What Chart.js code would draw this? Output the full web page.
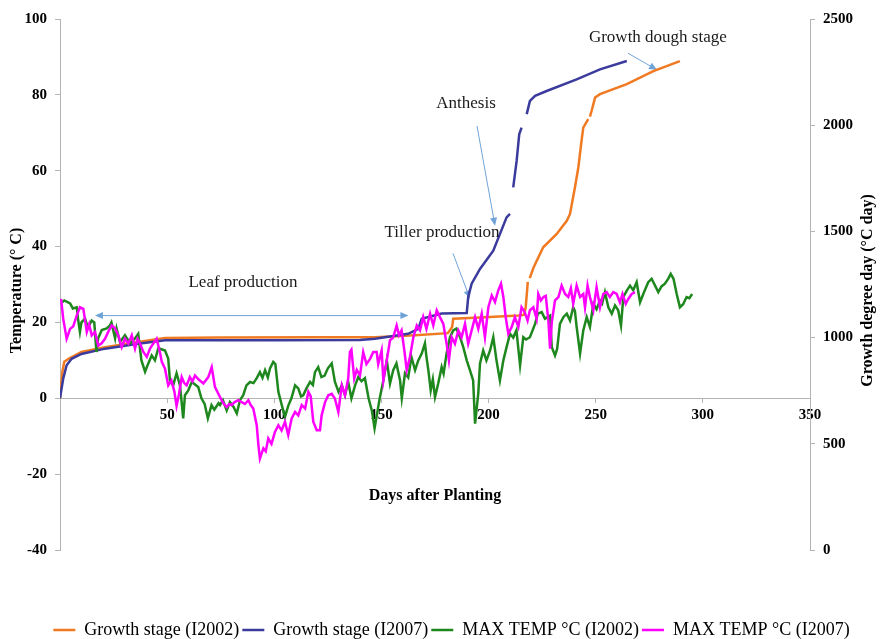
<!DOCTYPE html>
<html>
<head>
<meta charset="utf-8">
<script src="https://cdn.jsdelivr.net/npm/chart.js@4.4.0/dist/chart.umd.min.js"></script>
<style>
  html, body { margin: 0; padding: 0; background: #ffffff; }
  canvas { display: block; }
</style>
</head>
<body>
<canvas id="chart" width="880" height="639"></canvas>
<script>
// Tick values for the three axes
const dayTicks = [50, 100, 150, 200, 250, 300, 350];
const tempTicks = [-40, -20, 0, 20, 40, 60, 80, 100];
const gddTicks = [0, 500, 1000, 1500, 2000, 2500];

const seriesLabels = ['Growth stage (I2002)', 'Growth stage (I2007)', 'MAX TEMP °C (I2002)', 'MAX TEMP °C (I2007)'];

// Accumulated growth degree days (°C day) by days after planting; null = missing record
const gsDays2002 = [0, 1.1, 2, 4, 10, 21, 36.5, 49, 74, 120, 147, 165.7, 181, 183, 183.5, 193.7, 213.9, 216.5, 217.3, 217.8, 218.3, 218.6, 219.2, 221, 225.5, 231.8, 236.5, 238, 240.3, 241.9, 243.4, 244.2, 246.5, 246.9, 247.3, 248.1, 249.7, 252, 264.5, 276.9, 289.3];
const gdd2002 = [714, 838, 886, 900, 932, 955, 979, 998, 1000, 1002, 1002, 1011, 1021, 1050, 1089, 1093, 1104, 1107, 1140, 1200, 1262, null, 1280, 1330, 1425, 1488, 1550, 1582, 1707, 1802, 1927, 1989, 2029, null, 2040, 2068, 2130, 2146, 2193, 2255, 2302];

const gsDays2007 = [0, 1.5, 3.1, 5.4, 10, 21, 36.5, 49, 100, 140, 147, 162.5, 167.2, 168.8, 178.1, 189.8, 190.5, 192.1, 196, 202.2, 208.4, 210, 210.8, 211.5, 213.1, 214.3, 215.4, 216.6, 217.8, 219.3, 221.7, 227.1, 241.1, 252, 264.5];
const gdd2007 = [714, 807, 870, 900, 923, 948, 971, 988, 988, 989, 995, 1018, 1041, 1089, 1113, 1116, 1191, 1254, 1323, 1409, 1566, 1582, null, 1707, 1832, 1957, 1989, null, 2052, 2114, 2138, 2161, 2216, 2263, 2302];

// Daily maximum temperature, season 2002
const tempDays2002 = [1, 2, 4.7, 6, 7.8, 8.4, 9.3, 10, 11.7, 13, 14.8, 16, 17, 17.8, 19.5, 21.8, 23.3, 24, 25.7, 26.4, 28, 30.3, 32.7, 35, 36.5, 38, 39.7, 41.2, 42.8, 44.3, 45.9, 49, 50.5, 51.3, 52.8, 54.4, 56, 57.5, 58.3, 59.8, 61.5, 64.5, 66, 67.5, 69, 70.7, 72, 74, 74.7, 76, 77.8, 79.3, 81, 82.5, 84, 85.5, 87, 88.7, 90.3, 91.8, 93.3, 94.5, 95.7, 97, 98, 99.5, 100.5, 101.9, 103.5, 105, 106.5, 108, 109.7, 111.2, 112.5, 113.5, 115, 116.7, 118, 119, 120.5, 122, 123.5, 125, 126.8, 128.3, 130, 131.5, 133, 134.5, 136, 137.7, 139.2, 140.7, 142.3, 144, 145.5, 146.8, 149.3, 150.9, 152.5, 154, 155.5, 157, 158.7, 159.5, 161, 162.5, 164, 165.7, 167.2, 168.8, 170.3, 171, 171.9, 173, 174, 175, 176.5, 178.1, 179, 180.4, 182, 183.5, 185, 186.7, 188.2, 189.8, 191.3, 192.8, 193.7, 195.2, 196, 197.5, 199, 200.7, 202.2, 203.7, 205.3, 206.9, 208.4, 210, 211.5, 213, 214.7, 216.2, 217.5, 219.3, 221.7, 223, 224.8, 226.3, 228.7, 229.5, 231, 232, 233.3, 234.9, 236.5, 238, 239.5, 240.3, 241.1, 242.7, 244.2, 245.8, 247.3, 248.9, 250.4, 252, 253, 254.3, 255.9, 257.5, 259, 260.5, 261.8, 262.9, 264.5, 266, 267.5, 269.1, 270.7, 272.2, 274.5, 276.1, 277.7, 279.2, 280.7, 282.3, 283.8, 285, 286.3, 287.8, 289.3, 290.8, 292.4, 293.7, 295];
const maxTemp2002 = [25.3, 25.8, 25, 23.7, 24, 21, 17.5, 20, 21, 18.7, 20.5, 20, 12.2, 15.8, 18, 18.4, 19.2, 20, 15.8, 18.4, 14.8, 16.6, 14.5, 15.8, 17, 10, 7, 9.2, 11.3, 10, 13.2, 12.6, 10.5, 4.7, 3.4, 6.6, 3.4, -5.3, 0.8, 2, 4.3, 3, 0, -1.5, -5.3, -1.8, -3, -1.3, -1.8, -0.5, -3.2, -1, -2.3, -4, -0.5, 0.8, 3.4, 4.3, 4, 5.3, 6.9, 5.4, 7.4, 5.5, 7.9, 9.6, 9, 1.7, -1.8, -4.9, -2, 0, 3.4, 2.6, 0.5, 0.8, 2.6, 4.3, 3.5, 6.9, 8.2, 5.6, 6, 7.9, 9.2, 4.3, 1.7, 3.4, 0.8, 4.3, 0, 3.4, 5.6, 4.5, 5.3, 0, -3.2, -7.9, 0.3, 4.7, 10, 3.9, 7.4, 9.2, 4.7, 0, 6.6, 5.5, 10.9, 7.4, 10, 11.8, 14.5, 11, 7.4, 2.1, 5, 0.3, 3.9, 8.2, 6.5, 11.8, 16.1, 17.9, 18.4, 16.1, 13.5, 10, 7.4, 4.7, -6.7, 1.3, 9.2, 12.6, 10, 12.6, 16.1, 10, 4.7, 10, 13.5, 17, 16, 17.9, 8.7, 16.1, 15.5, 16.1, 19.6, 22.3, 22.7, 21, 21.8, 13.5, 11.3, 13, 19.6, 21.4, 22.3, 20.5, 24, 23, 18.8, 11.8, 17.9, 21.4, 18.8, 24.9, 23.5, 25.8, 25, 28, 24, 22.3, 24.5, 23.2, 19.2, 26.7, 28.4, 29.7, 28.5, 30.6, 25.3, 27.5, 30.6, 31.5, 29.7, 28, 29.5, 30.2, 31.5, 32.8, 31.5, 27.5, 24, 24.8, 26.7, 26.4, 27.5];

// Daily maximum temperature, season 2007
const tempDays2007 = [0.5, 1.5, 3.1, 4.7, 6.2, 7.8, 9.3, 10.9, 12.5, 13.6, 14.8, 16.3, 17.9, 19.4, 21, 22.5, 24.1, 25.6, 27.2, 28.8, 30.3, 31.9, 33.5, 35, 36.2, 37.4, 38.9, 40.5, 42, 43.5, 45.1, 46.6, 47.5, 49, 50.5, 52, 53.4, 54.4, 55.5, 56.8, 58, 59.1, 60.6, 61.8, 63, 64.6, 66.9, 69.2, 70.8, 72.3, 73.9, 75.4, 76.5, 77.8, 79, 80, 81.5, 83.2, 84.8, 86.3, 87.9, 89, 90.2, 91.8, 92.6, 93.3, 94.9, 96, 97.2, 98.7, 100.3, 101.9, 103.4, 105, 106.5, 108.1, 109.7, 111.2, 112.8, 114.4, 115.9, 117, 118.2, 119.8, 121.3, 122.1, 123.7, 125.2, 126.8, 128.3, 129.9, 131.5, 133, 134.5, 135.3, 136, 137.3, 138.5, 140, 141.5, 143, 144.7, 146.2, 147.8, 148.5, 150.1, 150.9, 152.5, 154, 155.5, 157.1, 158.2, 159.4, 160.7, 161.8, 163.3, 164.9, 166.5, 168, 169.5, 171, 172.7, 174.2, 175.8, 177.3, 178.9, 180.4, 181.5, 182.8, 184.3, 185.9, 187.4, 189, 190.5, 192.1, 193.7, 195.2, 196.8, 198.3, 199.9, 201.5, 203, 204.5, 205.8, 206.9, 208, 209.2, 210.8, 212.3, 213.9, 215.4, 216.9, 218.2, 219.3, 220.9, 222.4, 223.2, 224.4, 225.6, 226.7, 227.9, 228.7, 229.5, 231, 232.6, 234.1, 235.7, 237.2, 238.4, 239.5, 241.1, 242.7, 244.2, 245, 246.2, 247.3, 248.9, 250.4, 252, 253.5, 255.1, 256.6, 258.2, 259.8, 261.3, 262.5, 264, 265.2, 266.8, 268.3];
const maxTemp2007 = [26.2, 21, 15.7, 18.3, 19, 21.8, 24, 23.6, 17.5, 19.5, 16.6, 17.5, 13.9, 14.5, 15.7, 17.5, 19.2, 18.5, 16.6, 13.5, 15.7, 14.4, 16.6, 13.1, 15.7, 14.4, 12.2, 10.9, 13.1, 14.4, 15.7, 12.2, 9.6, 7.8, 3.4, 4.7, 1.7, -2, 1, 5.6, 4, 3.4, 5.6, 4.5, 6, 5, 3.9, 5.6, 8.2, 3, 1.2, -0.5, -1.5, -2.3, -1.5, -1.8, -1, -0.5, -1, -1.5, -0.5, -1.8, -2.7, -7.1, -12.4, -15.9, -13.2, -14, -10.6, -12, -8.9, -7.1, -8.5, -6.2, -9.7, -5.3, -3.6, -4.5, -1.8, -2.7, 1.7, 0.5, -6.2, -8.4, -8.4, -4.5, -1, 0.8, 1.2, -0.1, -3.6, 3.4, 0.8, 5.2, 12.2, 12.8, 5.2, 7.5, 6, 12.2, 9, 10.4, 12.2, 12.2, 9, 12.6, 4.7, 10, 15.3, 16, 19.2, 16.6, 17.9, 12.6, 7.4, 10.9, 16.1, 19.2, 17.9, 21.4, 18.3, 22.3, 19.2, 23.2, 21.4, 19.6, 14.4, 10, 16.1, 14.4, 17.9, 16.1, 19.6, 14.4, 17.9, 21.4, 18.3, 22.3, 16.1, 24, 27.1, 25.4, 28.4, 30.2, 26.7, 21.4, 17, 18.8, 21.4, 18.8, 24, 22.7, 20.5, 23.2, 24, 21, 27.5, 25.8, 26.7, 27, 20.5, 13.1, 20, 25.8, 26.7, 29.7, 27.5, 26.7, 29, 24.9, 29.7, 26.7, 27.5, 24, 29.7, 26.7, 23.2, 29.3, 24, 27.5, 28, 26.7, 28, 27.5, 25.3, 27.5, 24.9, 26.2, 27.5, 28];

// Stage notes: text anchored at (day, temperature)
const noteText = ['Leaf production', 'Tiller production', 'Anthesis', 'Growth dough stage'];
const noteDay = [85.4, 178.3, 189.5, 279];
const noteTemp = [30.5, 43.7, 77.6, 95];
// Arrows: start day/temp -> end day/temp, flag = heads on both ends
const arrowFromDay = [162.6, 183.4, 194.6, 265];
const arrowFromTemp = [21.8, 38.2, 71.8, 91];
const arrowToDay = [16.3, 191.3, 203, 278.6];
const arrowToTemp = [21.8, 26.3, 45.5, 86.6];
const arrowBothEnds = [true, false, false, false];

const SERIF = '"Liberation Serif", "Times New Roman", serif';
const AXIS_GREY = '#b4b4b4';
const ARROW_BLUE = '#6fa3d8';

function points(days, values) {
  return days.map((d, i) => ({ x: d, y: values[i] }));
}

function drawHead(ctx, x1, y1, x2, y2) {
  const a = Math.atan2(y2 - y1, x2 - x1);
  const len = 8, half = 3.5;
  ctx.beginPath();
  ctx.moveTo(x2, y2);
  ctx.lineTo(x2 - len * Math.cos(a) + half * Math.sin(a), y2 - len * Math.sin(a) - half * Math.cos(a));
  ctx.lineTo(x2 - len * Math.cos(a) - half * Math.sin(a), y2 - len * Math.sin(a) + half * Math.cos(a));
  ctx.closePath();
  ctx.fill();
}

const stageNotes = {
  id: 'stageNotes',
  beforeDatasetsDraw(chart) {
    const { ctx, scales: { x, y } } = chart;
    ctx.save();
    ctx.strokeStyle = ARROW_BLUE;
    ctx.fillStyle = ARROW_BLUE;
    ctx.lineWidth = 1;
    arrowFromDay.forEach((d, i) => {
      const x1 = x.getPixelForValue(d), y1 = y.getPixelForValue(arrowFromTemp[i]);
      const x2 = x.getPixelForValue(arrowToDay[i]), y2 = y.getPixelForValue(arrowToTemp[i]);
      const a = Math.atan2(y2 - y1, x2 - x1);
      const sx = arrowBothEnds[i] ? x1 + 6 * Math.cos(a) : x1;
      const sy = arrowBothEnds[i] ? y1 + 6 * Math.sin(a) : y1;
      ctx.beginPath();
      ctx.moveTo(sx, sy);
      ctx.lineTo(x2 - 6 * Math.cos(a), y2 - 6 * Math.sin(a));
      ctx.stroke();
      drawHead(ctx, x1, y1, x2, y2);
      if (arrowBothEnds[i]) drawHead(ctx, x2, y2, x1, y1);
    });
    ctx.restore();
  },
  afterDraw(chart) {
    const { ctx, chartArea, scales: { x, y } } = chart;
    ctx.save();
    ctx.fillStyle = '#1a1a1a';
    ctx.font = '17px ' + SERIF;
    ctx.textAlign = 'center';
    ctx.textBaseline = 'middle';
    noteText.forEach((t, i) => {
      ctx.fillText(t, x.getPixelForValue(noteDay[i]), y.getPixelForValue(noteTemp[i]));
    });
    // vertical axis titles, both reading bottom to top
    const midY = (chartArea.top + chartArea.bottom) / 2 + 6;
    ctx.fillStyle = '#000';
    ctx.font = 'bold 16px ' + SERIF;
    [[17, 'Temperature (° C)'], [chart.width - 12, 'Growth degree day (°C day)']].forEach(([tx, text]) => {
      ctx.save();
      ctx.translate(tx, midY);
      ctx.rotate(-Math.PI / 2);
      ctx.fillText(text, 0, 0);
      ctx.restore();
    });
    ctx.restore();
  }
};

const lineStyle = { fill: false, tension: 0, pointRadius: 0, pointHoverRadius: 0, spanGaps: false, pointStyle: 'line' };
const tickFont = { family: SERIF, size: 15, weight: 'bold' };

new Chart(document.getElementById('chart'), {
  type: 'line',
  data: {
    datasets: [
      Object.assign({ label: seriesLabels[0], data: points(gsDays2002, gdd2002), yAxisID: 'y1',
        borderColor: '#f07a22', backgroundColor: '#f07a22', borderWidth: 2.5, order: 3 }, lineStyle),
      Object.assign({ label: seriesLabels[1], data: points(gsDays2007, gdd2007), yAxisID: 'y1',
        borderColor: '#3b3b9e', backgroundColor: '#3b3b9e', borderWidth: 2.5, order: 2 }, lineStyle),
      Object.assign({ label: seriesLabels[2], data: points(tempDays2002, maxTemp2002), yAxisID: 'y',
        borderColor: '#1e871e', backgroundColor: '#1e871e', borderWidth: 2.5, order: 1 }, lineStyle),
      Object.assign({ label: seriesLabels[3], data: points(tempDays2007, maxTemp2007), yAxisID: 'y',
        borderColor: '#ff00ff', backgroundColor: '#ff00ff', borderWidth: 2.5, order: 0 }, lineStyle)
    ]
  },
  options: {
    responsive: false,
    animation: false,
    devicePixelRatio: 1,
    layout: { padding: { top: 19, left: 23, right: 0, bottom: 0 } },
    plugins: {
      tooltip: { enabled: false },
      legend: {
        position: 'bottom',
        maxHeight: 89,
        title: { display: true, text: ' ', font: { size: 10 }, padding: { top: 56, bottom: 0 } },
        labels: {
          usePointStyle: true,
          pointStyleWidth: 22,
          padding: 3,
          color: '#000',
          font: { family: SERIF, size: 18 },
          sort: (a, b) => a.datasetIndex - b.datasetIndex
        }
      }
    },
    scales: {
      x: {
        type: 'linear',
        position: { y: 0 },
        min: 0,
        max: 350,
        afterBuildTicks: s => { s.ticks = dayTicks.map(v => ({ value: v })); },
        grid: { drawOnChartArea: false, drawTicks: true, tickLength: 4, color: AXIS_GREY },
        border: { color: AXIS_GREY, width: 1 },
        ticks: { color: '#000', font: tickFont, padding: 4, maxRotation: 0, autoSkip: false, callback: v => String(v) },
        title: { display: true, text: 'Days after Planting', color: '#000',
          font: { family: SERIF, size: 16, weight: 'bold' }, padding: { top: 58, bottom: 0 } }
      },
      y: {
        type: 'linear',
        position: 'left',
        min: -40,
        max: 100,
        afterBuildTicks: s => { s.ticks = tempTicks.map(v => ({ value: v })); },
        afterFit: s => { s.width = 37; },
        grid: { drawOnChartArea: false, drawTicks: true, tickLength: 5, color: AXIS_GREY },
        border: { color: AXIS_GREY, width: 1 },
        ticks: { color: '#000', font: tickFont, padding: 8, callback: v => String(v) }
      },
      y1: {
        type: 'linear',
        position: 'right',
        min: 0,
        max: 2500,
        afterBuildTicks: s => { s.ticks = gddTicks.map(v => ({ value: v })); },
        afterFit: s => { s.width = 70; },
        grid: { drawOnChartArea: false, drawTicks: true, tickLength: 5, color: AXIS_GREY },
        border: { color: AXIS_GREY, width: 1 },
        ticks: { color: '#000', font: tickFont, padding: 8, callback: v => String(v) }
      }
    }
  },
  plugins: [stageNotes]
});
</script>
</body>
</html>
